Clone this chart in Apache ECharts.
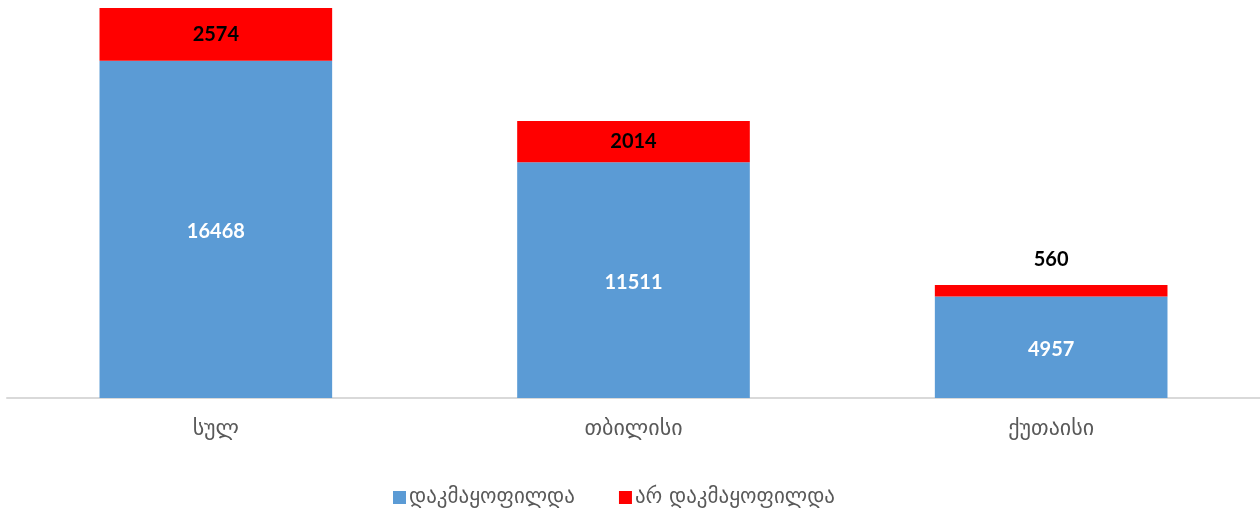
<!DOCTYPE html>
<html><head><meta charset="utf-8">
<script src="https://cdn.jsdelivr.net/npm/echarts@6/dist/echarts.min.js"></script>
<style>html,body{margin:0;padding:0;background:#fff}#c{width:1260px;height:512px}</style>
</head><body><div id="c"></div>
<script>
const categories = ['სულ', 'თბილისი', 'ქუთაისი'];
const seriesNames = ['დაკმაყოფილდა', 'არ დაკმაყოფილდა'];
const satisfied = [16468, 11511, 4957];
const notSatisfied = [2574, 2014, 560];

const totals = satisfied.map((v, i) => v + notSatisfied[i]);
const maxTotal = Math.max(...totals);

const chart = echarts.init(document.getElementById('c'));
chart.setOption({
  animation: false,
  grid: { left: 7, right: 0, top: 8, bottom: 114, containLabel: false },
  legend: {
    bottom: -1, left: 388, itemWidth: 13, itemHeight: 13, itemGap: 44,
    icon: 'rect',
    textStyle: { fontFamily: 'DejaVu Sans', fontSize: 21, color: '#595959', padding: [0, 0, 0, -2] },
    data: seriesNames
  },
  xAxis: {
    type: 'category', data: categories,
    axisLine: { lineStyle: { color: '#d9d9d9', width: 2 } },
    axisTick: { show: false },
    axisLabel: { fontFamily: 'DejaVu Sans', fontSize: 22, color: '#595959', margin: 20 }
  },
  yAxis: { type: 'value', min: 0, max: maxTotal, show: false, splitLine: { show: false } },
  series: [
    {
      name: seriesNames[0], type: 'bar', stack: 's', barWidth: '55.7%',
      itemStyle: { color: '#5B9BD5' },
      label: { show: true, position: 'inside', color: '#fff', fontFamily: 'Lato', fontWeight: 'bold', fontSize: 20, offset: [0, 2] },
      data: satisfied
    },
    {
      name: seriesNames[1], type: 'bar', stack: 's', barWidth: '55.7%',
      itemStyle: { color: '#FF0000' },
      label: { show: true, position: 'inside', color: '#000', fontFamily: 'Lato', fontWeight: 'bold', fontSize: 20 },
      data: notSatisfied.map((v, i) => (v / maxTotal < 0.05)
        ? { value: v, label: { position: 'top', distance: 15 } }
        : v)
    }
  ]
});
</script></body></html>
